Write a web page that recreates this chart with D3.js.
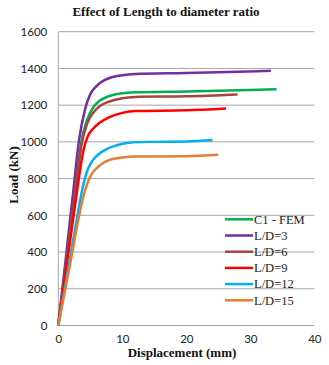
<!DOCTYPE html>
<html>
<head>
<meta charset="utf-8">
<script src="https://cdn.jsdelivr.net/npm/d3@7"></script>
<style>
body { margin: 0; background: #fff; }
.tick text { font-family: Lato, "Liberation Sans", sans-serif; font-size: 11.5px; fill: #222; }
.ttl { font-family: "Liberation Serif", serif; font-weight: bold; fill: #111; }
.leg { font-family: "Liberation Serif", serif; font-size: 12.5px; fill: #222; }
</style>
</head>
<body>
<div id="chart"></div>
<script>
var width = 329,
height = 365;

// data: [displacement mm, load kN]
var names = ["C1 - FEM", "L/D=3", "L/D=6", "L/D=9", "L/D=12", "L/D=15"];
var colors = ["#00b050", "#7030a0", "#a9443e", "#ff0000", "#00b0f0", "#e57e35"];

var fem = [[0,0],[0.9,250],[1.8,500],[2.7,750],[3.6,1000],[4.5,1120],[5.5,1190],[6.5,1225],[8,1250],[10,1265],[12,1270],[20,1275],[30,1283],[34.1,1287]];
var ld3 = [[0,0],[0.8,250],[1.6,500],[2.4,750],[3.2,1000],[4.2,1180],[5,1260],[6,1305],[7,1332],[8,1348],[10,1363],[12,1370],[20,1375],[28,1382],[33.2,1387]];
var ld6 = [[0,0],[0.9,250],[1.8,500],[2.7,750],[3.6,980],[4.5,1100],[5.5,1160],[6.5,1195],[8,1220],[10,1238],[12,1245],[20,1248],[28,1258]];
var ld9 = [[0,0],[1,250],[2,500],[3,750],[3.9,950],[4.6,1030],[5.4,1070],[6.5,1105],[8,1135],[10,1158],[12,1168],[20,1172],[26.2,1182]];
var ld12 = [[0,0],[1,200],[2,400],[3,600],[3.8,750],[4.5,840],[5.2,890],[6.2,930],[7.5,960],[9,980],[11,995],[14,1000],[20,1002],[24.1,1010]];
var ld15 = [[0,0],[1.1,200],[2.2,400],[3.2,590],[3.9,700],[4.6,780],[5.3,830],[6,857],[7,885],[8,902],[10,915],[12,920],[20,922],[25,930]];

var xTicks = [0, 10, 20, 30, 40];
var yTicks = [0, 200, 400, 600, 800, 1000, 1200, 1400, 1600];

var series = [fem, ld3, ld6, ld9, ld12, ld15];

var svg = d3.select("#chart")
.append("svg")
.attr("width", width)
.attr("height", height);

var xScale = d3.scaleLinear()
.domain([0, 40])
.range([58.3, 314.3]);

var yScale = d3.scaleLinear()
.domain([0, 1600])
.range([325.5, 31.7]);

//gridlines
svg.append("g")
.selectAll("line")
.data(yTicks)
.enter()
.append("line")
.attr("x1", xScale(0))
.attr("x2", xScale(40))
.attr("y1", function(d) { return yScale(d); })
.attr("y2", function(d) { return yScale(d); })
.attr("stroke", "#a6a6a6")
.attr("stroke-width", 1);

//left axis line
svg.append("line")
.attr("x1", xScale(0)).attr("x2", xScale(0))
.attr("y1", yScale(0)).attr("y2", yScale(1600))
.attr("stroke", "#a6a6a6");

var yAxis = d3.axisLeft(yScale)
.tickValues(yTicks)
.tickFormat(d3.format("d"))
.tickSize(0)
.tickPadding(11);

svg.append("g")
.attr("transform", "translate(" + xScale(0) + ",0)")
.call(yAxis)
.call(function(g) { g.select(".domain").remove(); });

var xAxis = d3.axisBottom(xScale)
.tickValues(xTicks)
.tickFormat(d3.format("d"))
.tickSize(0)
.tickPadding(9);

svg.append("g")
.attr("transform", "translate(0," + yScale(0) + ")")
.call(xAxis)
.call(function(g) { g.select(".domain").remove(); });

// curves
var line = d3.line()
.curve(d3.curveMonotoneX)
.x(function(d) { return xScale(d[0]); })
.y(function(d) { return yScale(d[1]); });

svg.append("g")
.selectAll("path")
.data(series)
.enter()
.append("path")
.attr("d", line)
.attr("fill", "none")
.attr("stroke", function(d, i) { return colors[i]; })
.attr("stroke-width", 2.5);

//titles
svg.append("text")
.attr("class", "ttl")
.attr("x", 166)
.attr("y", 16)
.attr("text-anchor", "middle")
.style("font-size", "13px")
.text("Effect of Length to diameter ratio");

svg.append("text")
.attr("class", "ttl")
.attr("transform", "translate(18,175) rotate(-90)")
.attr("text-anchor", "middle")
.style("font-size", "13px")
.text("Load (kN)");

svg.append("text")
.attr("class", "ttl")
.attr("x", 182)
.attr("y", 357)
.attr("text-anchor", "middle")
.style("font-size", "13px")
.text("Displacement (mm)");

// legend
var legend = svg.append("g")
.selectAll("g")
.data(names)
.enter()
.append("g")
.attr("transform", function(d, i) { return "translate(225," + (219.3 + i * 16.2) + ")"; });

legend.append("line")
.attr("x1", 0).attr("x2", 28)
.attr("stroke", function(d, i) { return colors[i]; })
.attr("stroke-width", 2.5);

legend.append("text")
.attr("class", "leg")
.attr("x", 29)
.attr("dy", "0.35em")
.text(function(d) { return d; });
</script>
</body>
</html>
